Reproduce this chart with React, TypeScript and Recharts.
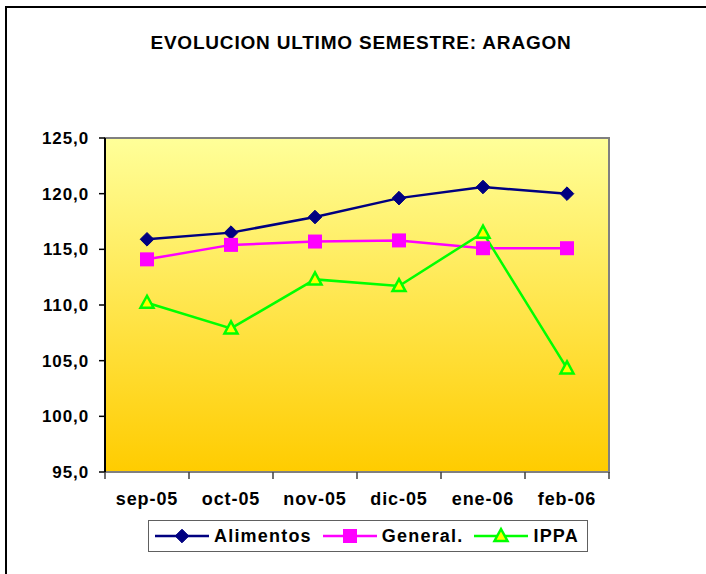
import React from 'react';
import { LineChart, Line, XAxis, YAxis, ReferenceArea } from 'recharts';

const months = ['sep-05', 'oct-05', 'nov-05', 'dic-05', 'ene-06', 'feb-06'];
const alimentos = [115.9, 116.5, 117.9, 119.6, 120.6, 120.0];
const general = [114.1, 115.4, 115.7, 115.8, 115.1, 115.1];
const ippa = [110.2, 107.9, 112.3, 111.7, 116.5, 104.3];
const yTicks = [95, 100, 105, 110, 115, 120, 125];

const title = 'EVOLUCION ULTIMO SEMESTRE: ARAGON';
const FONT = '"Liberation Sans", Arial, Helvetica, sans-serif';

const data = months.map((m, i) => ({
  month: m,
  Alimentos: alimentos[i],
  'General.': general[i],
  IPPA: ippa[i],
}));

type Marker = 'diamond' | 'square' | 'triangle';

const series: { key: string; color: string; marker: Marker }[] = [
  { key: 'Alimentos', color: '#000080', marker: 'diamond' },
  { key: 'General.', color: '#FF00FF', marker: 'square' },
  { key: 'IPPA', color: '#00FF00', marker: 'triangle' },
];

function markerShape(kind: Marker, cx: number, cy: number, color: string, k?: string | number) {
  if (kind === 'diamond') {
    const r = 6.8;
    return (
      <polygon
        key={k}
        points={`${cx},${cy - r} ${cx + r},${cy} ${cx},${cy + r} ${cx - r},${cy}`}
        fill={color}
        stroke={color}
        strokeWidth={1}
      />
    );
  }
  if (kind === 'square') {
    const r = 7;
    return <rect key={k} x={cx - r} y={cy - r} width={2 * r} height={2 * r} fill={color} />;
  }
  const h = 6;
  return (
    <polygon
      key={k}
      points={`${cx},${cy - h - 1} ${cx + h + 0.5},${cy + h - 1} ${cx - h - 0.5},${cy + h - 1}`}
      fill="#FFFF00"
      stroke={color}
      strokeWidth={2.5}
      strokeLinejoin="miter"
    />
  );
}

const makeDot = (kind: Marker, color: string) => (props: any) => {
  const { cx, cy, index } = props;
  if (cx == null || cy == null) return <g key={index} />;
  return markerShape(kind, cx, cy, color, index);
};

const fmt = (v: number) => v.toFixed(1).replace('.', ',');

// gap between the axis line and the month labels
const LABEL_GAP = 20;
const EDGE_TICK = 7;

// Month label plus the short tick marks on the category boundaries
const MonthTick = (props: any) => {
  const { x, y, payload, index, visibleTicksCount } = props;
  const half = payload && payload.offset ? payload.offset : 0;
  const top = y - LABEL_GAP;
  const edges = [x - half];
  if (index === visibleTicksCount - 1) edges.push(x + half);
  return (
    <g>
      {edges.map((ex, i) => (
        <line key={i} x1={ex} y1={top} x2={ex} y2={top + EDGE_TICK} stroke="#404040" strokeWidth={1.5} />
      ))}
      <text
        x={x}
        y={y}
        dy="0.71em"
        textAnchor="middle"
        fill="#000"
        fontSize={18}
        fontWeight="bold"
        fontFamily={FONT}
        letterSpacing={0.9}
      >
        {payload.value}
      </text>
    </g>
  );
};

export default function App() {
  return (
    <div
      style={{
        position: 'absolute',
        left: 0,
        top: 0,
        width: 706,
        height: 574,
        overflow: 'hidden',
        background: '#fff',
        fontFamily: FONT,
      }}
    >
      <div
        style={{
          position: 'absolute',
          left: 5,
          top: 6,
          width: 760,
          height: 640,
          borderLeft: '2px solid #000',
          borderTop: '2px solid #000',
        }}
      />
      <div
        style={{
          position: 'absolute',
          left: 0,
          top: 33,
          width: 722,
          textAlign: 'center',
          fontSize: 19,
          lineHeight: '20px',
          fontWeight: 'bold',
          letterSpacing: 0.8,
          color: '#000',
        }}
      >
        {title}
      </div>

      <div style={{ position: 'absolute', left: 0, top: 0 }}>
        <LineChart
          width={706}
          height={574}
          data={data}
          margin={{ top: 138, right: 97, left: 0, bottom: 62 }}
        >
          <defs>
            <linearGradient id="plotFill" x1="0" y1="0" x2="0" y2="1">
              <stop offset="0%" stopColor="#FFFF99" />
              <stop offset="100%" stopColor="#FFCC00" />
            </linearGradient>
          </defs>
          <XAxis
            dataKey="month"
            scale="band"
            height={40}
            axisLine={false}
            tickLine={false}
            tickSize={0}
            tickMargin={LABEL_GAP}
            interval={0}
            tick={MonthTick}
          />
          <YAxis
            width={105}
            domain={[95, 125]}
            ticks={yTicks}
            interval={0}
            tickFormatter={fmt}
            axisLine={{ stroke: '#000', strokeWidth: 2 }}
            tickLine={{ stroke: '#000', strokeWidth: 1.5 }}
            tickSize={6}
            tickMargin={10}
            tick={{
              fill: '#000',
              fontSize: 17,
              fontWeight: 'bold',
              fontFamily: FONT,
              letterSpacing: 0.9,
            }}
          />
          <ReferenceArea
            y1={95}
            y2={125}
            fill="url(#plotFill)"
            fillOpacity={1}
            stroke="#808080"
            strokeWidth={2}
          />
          {series.map((s) => (
            <Line
              key={s.key}
              type="linear"
              dataKey={s.key}
              stroke={s.color}
              strokeWidth={2.5}
              dot={makeDot(s.marker, s.color)}
              activeDot={false}
              isAnimationActive={false}
            />
          ))}
        </LineChart>
      </div>

      <div
        style={{
          position: 'absolute',
          left: 148,
          top: 520,
          width: 432,
          height: 30,
          border: '1.5px solid #606060',
          background: '#fff',
          display: 'flex',
          alignItems: 'center',
          paddingLeft: 6,
          boxSizing: 'content-box',
        }}
      >
        {series.map((s, i) => (
          <div
            key={s.key}
            style={{ display: 'flex', alignItems: 'center', marginRight: i < series.length - 1 ? 11 : 0 }}
          >
            <svg width={54} height={20} style={{ display: 'block' }}>
              <line x1={0} y1={10} x2={54} y2={10} stroke={s.color} strokeWidth={2.5} />
              {markerShape(s.marker, 27, 10, s.color)}
            </svg>
            <span
              style={{
                marginLeft: 5,
                fontSize: 18,
                fontWeight: 'bold',
                letterSpacing: 1.2,
                color: '#000',
                lineHeight: '20px',
              }}
            >
              {s.key}
            </span>
          </div>
        ))}
      </div>
    </div>
  );
}
